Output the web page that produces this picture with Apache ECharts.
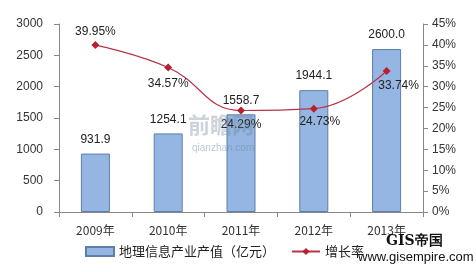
<!DOCTYPE html>
<html><head><meta charset="utf-8">
<script src="https://cdn.jsdelivr.net/npm/echarts@6/dist/echarts.min.js"></script>
<style>html,body{margin:0;padding:0;background:#fff}#c{width:476px;height:272px}</style>
</head><body><div id="c"></div>
<script>
var categories = ['2009年','2010年','2011年','2012年','2013年'];
var outputValues = [931.9, 1254.1, 1558.7, 1944.1, 2600.0];
var growthRates = [39.95, 34.57, 24.29, 24.73, 33.74];
var barName = '地理信息产业产值（亿元）';
var lineName = '增长率';

var font = '"Liberation Sans", Arial, sans-serif';
var cjk = '"Noto Sans CJK SC", sans-serif';
var labelCfg = [
  {position: 'top', distance: 3},
  {position: 'bottom', distance: 6},
  {position: 'bottom', distance: 4},
  {position: 'bottom', distance: 3, offset: [6, 0]},
  {position: 'bottom', distance: 5, offset: [12, 0]}
];
var chart = echarts.init(document.getElementById('c'));
chart.setOption({
  animation: false,
  grid: {left: 59, right: 53, top: 24, bottom: 60},
  legend: {
    bottom: 9, left: 80, itemGap: 16, itemWidth: 28, itemHeight: 9,
    textStyle: {fontFamily: cjk, fontSize: 13, color: '#222'},
    data: [{name: barName, icon: 'rect'}, {name: lineName}]
  },
  xAxis: {
    type: 'category', data: categories,
    axisLine: {lineStyle: {color: '#888'}},
    axisTick: {show: true, lineStyle: {color: '#888'}, length: 5},
    axisLabel: {fontFamily: cjk, fontSize: 12, color: '#333', margin: 12}
  },
  yAxis: [
    {type: 'value', min: 0, max: 3000, interval: 500,
     axisLine: {show: true, lineStyle: {color: '#888'}},
     axisTick: {show: true, lineStyle: {color: '#888'}, length: 5},
     splitLine: {show: false},
     axisLabel: {fontFamily: font, fontSize: 12, color: '#333', margin: 16,
       formatter: function(v){return String(v);}}},
    {type: 'value', min: 0, max: 45, interval: 5,
     axisLine: {show: true, lineStyle: {color: '#888'}},
     axisTick: {show: true, lineStyle: {color: '#888'}, length: 5},
     splitLine: {show: false},
     axisLabel: {fontFamily: font, fontSize: 12, color: '#333', margin: 9, formatter: '{value}%'}}
  ],
  series: [
    {name: barName, type: 'bar', data: outputValues, barWidth: 29,
     itemStyle: {color: '#95b6e2', borderColor: '#5d7ea8', borderWidth: 1},
     label: {show: true, position: 'top', distance: 8, fontFamily: font, fontSize: 12, color: '#222',
       formatter: function(p){return p.value.toFixed(1);}}},
    {name: lineName, type: 'line', yAxisIndex: 1, smooth: 0.45,
     data: growthRates.map(function(v, i){
       var l = labelCfg[i];
       return {value: v, label: {position: l.position, distance: l.distance, offset: l.offset || [0,0]}};
     }),
     symbol: 'diamond', symbolSize: 8,
     lineStyle: {color: '#b8334a', width: 1.2},
     itemStyle: {color: '#b8202e'},
     label: {show: true, fontFamily: font, fontSize: 12, color: '#222',
       formatter: function(p){return p.value.toFixed(2) + '%';}}}
  ],
  graphic: [
    {type: 'text', left: 188, top: 114, z: 100, style: {text: '前瞻网', fontFamily: cjk, fontSize: 22, fontWeight: 'bold', fill: 'rgba(110,130,150,0.35)'}},
    {type: 'text', left: 192, top: 143, z: 100, style: {text: 'qianzhan.com', fontFamily: font, fontSize: 10, fill: 'rgba(110,130,150,0.45)'}},
    {type: 'text', left: 386, top: 234, z: 100, style: {text: 'GIS帝国', fontFamily: '"DejaVu Serif", serif', fontSize: 14, fontWeight: 'bold', fill: '#111'}},
    {type: 'text', left: 358, top: 251, z: 100, style: {text: 'www.gisempire.com', fontFamily: font, fontSize: 13, fill: '#111'}}
  ]
});
</script></body></html>
